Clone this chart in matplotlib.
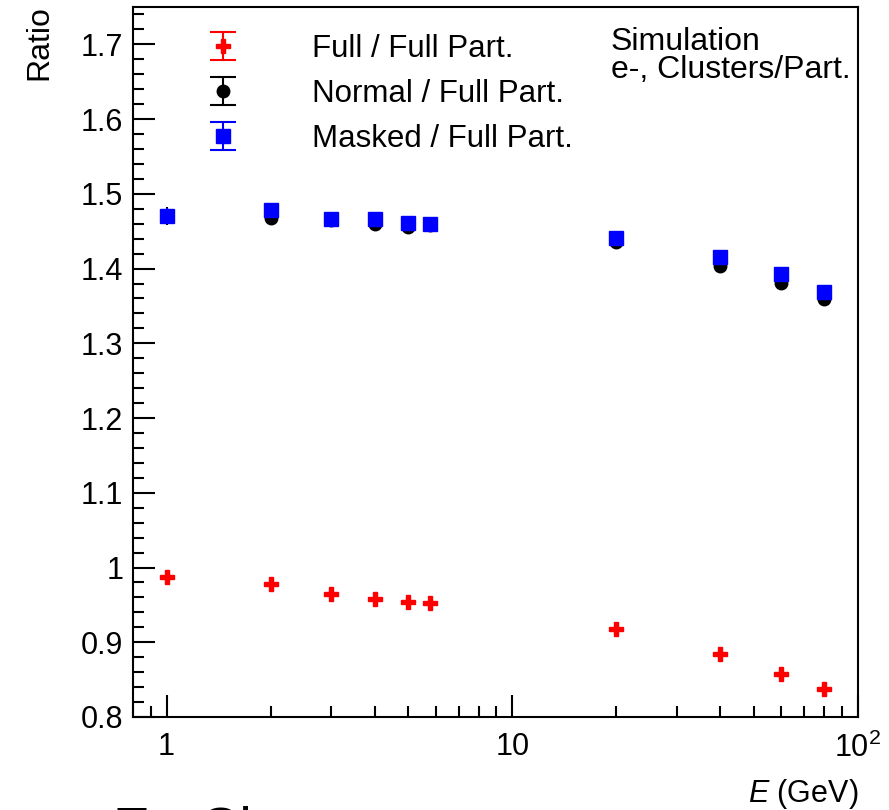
import numpy as np
import matplotlib
matplotlib.use("Agg")
import matplotlib.pyplot as plt
from matplotlib.ticker import FixedLocator, MultipleLocator, FuncFormatter, NullFormatter
from matplotlib.container import ErrorbarContainer
from matplotlib.legend_handler import HandlerErrorbar
from matplotlib.lines import Line2D
from matplotlib.collections import LineCollection

plt.rcParams['font.family'] = ['Liberation Sans', 'DejaVu Sans']
plt.rcParams['mathtext.fontset'] = 'custom'
plt.rcParams['mathtext.rm'] = 'Liberation Sans'
plt.rcParams['mathtext.it'] = 'Liberation Sans:italic'

# energies (GeV)
energy = np.array([1, 2, 3, 4, 5, 5.8, 20, 40, 60, 80])

# ratios
full_ratio = np.array([0.987, 0.978, 0.965, 0.958, 0.954, 0.952, 0.918, 0.884, 0.857, 0.837])
normal_ratio = np.array([1.470, 1.468, 1.465, 1.460, 1.456, 1.458, 1.435, 1.403, 1.381, 1.359])
masked_ratio = np.array([1.471, 1.478, 1.466, 1.466, 1.461, 1.460, 1.441, 1.415, 1.393, 1.369])

full_err = np.array([0.004, 0.003, 0.003, 0.003, 0.003, 0.003, 0.003, 0.003, 0.003, 0.003])
normal_err = np.array([0.012, 0.004, 0.003, 0.003, 0.003, 0.003, 0.003, 0.003, 0.003, 0.003])
masked_err = np.array([0.010, 0.004, 0.003, 0.003, 0.003, 0.003, 0.003, 0.003, 0.003, 0.003])

labels = ['Full / Full Part.', 'Normal / Full Part.', 'Masked / Full Part.']
colors = ['#ff0000', '#000000', '#0000ff']
markers = ['P', 'o', 's']
msizes = [9.5, 9, 9.5]

fig = plt.figure(figsize=(8.89, 8.10), dpi=100)
ax = fig.add_axes([133/889, 93/810, 725/889, 710/810])

series = [full_ratio, normal_ratio, masked_ratio]
errs = [full_err, normal_err, masked_err]
for vals, err, c, m, ms in zip(series, errs, colors, markers, msizes):
    ax.errorbar(energy, vals, yerr=err, fmt=m, color=c, ms=ms, mec=c,
                elinewidth=1.5, capsize=0, zorder=3)

ax.set_xscale('log')
ax.set_xlim(0.8, 100)
ax.set_ylim(0.8, 1.75)

ax.xaxis.set_major_locator(FixedLocator([1, 10, 100]))
ax.xaxis.set_major_formatter(FuncFormatter(
    lambda v, p: {1: '1', 10: '10', 100: r'10$^{2}$'}.get(int(round(v)), '')))
ax.xaxis.set_minor_locator(FixedLocator([0.8, 0.9] + [k for k in range(2, 10)]
                                        + [10*k for k in range(2, 10)]))
ax.xaxis.set_minor_formatter(NullFormatter())

ax.yaxis.set_major_locator(MultipleLocator(0.1))
ax.yaxis.set_minor_locator(MultipleLocator(0.02))
ax.yaxis.set_major_formatter(FuncFormatter(lambda v, p: f'{v:.1f}'.rstrip('0').rstrip('.')))

ax.tick_params(which='both', direction='in', top=False, right=False, width=1.5,
               labelsize=22)
ax.tick_params(which='major', length=16)
ax.tick_params(which='minor', length=8)
ax.tick_params(axis='x', which='major', pad=11)
ax.tick_params(axis='y', which='major', pad=7)
for s in ax.spines.values():
    s.set_linewidth(1.5)

# legend entries: marker + error bar with caps
handles = []
for c, m, ms in zip(colors, markers, msizes):
    dot = Line2D([], [], marker=m, ls='none', color=c, mec=c, ms=ms)
    cap = Line2D([], [], marker='_', ls='none', color=c, ms=18.6, mew=1.5)
    bar = LineCollection([], colors=c, linewidths=1.5)
    handles.append(ErrorbarContainer((dot, (cap, cap), (bar,)), has_yerr=True))
ax.legend(handles, labels, loc='upper left', bbox_to_anchor=(59/725, 0.962),
          frameon=False, fontsize=22.5, borderpad=0, borderaxespad=0,
          handlelength=2.0, handletextpad=1.85, labelspacing=0.48,
          handler_map={ErrorbarContainer: HandlerErrorbar(yerr_size=0.45)})

fig.text(611/889, 1 - 50/810, 'Simulation', fontsize=23, va='baseline', ha='left')
fig.text(611/889, 1 - 78/810, 'e-, Clusters/Part.', fontsize=23, va='baseline', ha='left')

fig.text(47/889, 1 - 5/810, 'Ratio', fontsize=23, rotation=90, rotation_mode='anchor',
         ha='right', va='baseline')
fig.text(858/889, 8/810, r'$E$ (GeV)', fontsize=22, ha='right', va='baseline')

# caption cut off at the bottom edge, as in the source image
fig.text(113/889, -35/810, 'E - Clusters', fontsize=40, ha='left', va='baseline')

fig.savefig('out.png', dpi=100)
